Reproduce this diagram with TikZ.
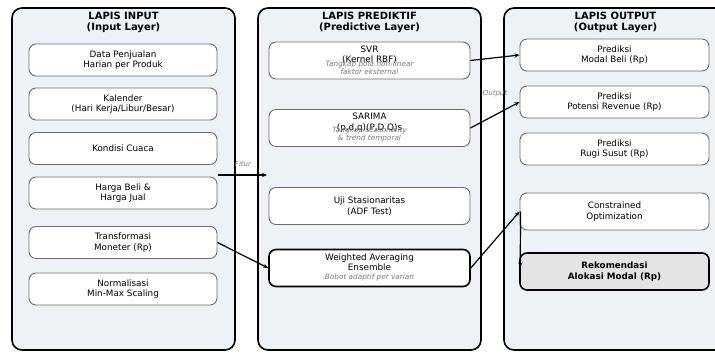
\documentclass[tikz,border=0pt]{standalone}
\usepackage{fontspec}
\setmainfont{DejaVu Sans}
\usetikzlibrary{arrows.meta}

\definecolor{panelfill}{HTML}{EEF2F7}
\definecolor{boxedge}{HTML}{6E6E6E}
\definecolor{subgrey}{HTML}{7A7A7A}
\definecolor{keyfill}{HTML}{E4E4E4}

\tikzset{
  panel/.style={draw=black, line width=1.6pt, fill=panelfill, rounded corners=10pt,
    inner sep=0pt},
  layertitle/.style={font=\fontsize{10}{11.5}\selectfont\bfseries, align=center, inner sep=0pt},
  item/.style={draw=boxedge, line width=0.9pt, fill=white, rounded corners=7pt,
    inner sep=0pt, align=center, font=\fontsize{8.8}{10.5}\selectfont},
  inbox/.style={item, minimum width=188pt, minimum height=32pt},
  midbox/.style={item, minimum width=201pt, minimum height=37pt},
  outbox/.style={item, minimum width=189pt, minimum height=32pt},
  strong/.style={draw=black, line width=1.6pt},
  maintext/.style={font=\fontsize{8.8}{10.3}\selectfont, align=center, inner sep=0pt},
  subtext/.style={font=\fontsize{7.3}{8.4}\selectfont\itshape, text=subgrey,
    align=center, inner sep=0pt},
  flowlabel/.style={font=\fontsize{7}{8}\selectfont\itshape, text=subgrey, inner sep=0pt},
  flow/.style={line width=1.2pt, -{Stealth[length=5pt,width=4pt]}},
}

\begin{document}
\begin{tikzpicture}[x=1pt, y=-1pt]
  \useasboundingbox (0,0) rectangle (715,353);
  \clip (0,0) rectangle (715,353);

  % layer panels
  \node[panel, minimum width=223pt, minimum height=342pt] (pin)  at (123.5,179) {};
  \node[panel, minimum width=223pt, minimum height=342pt] (ppre) at (369.5,179) {};
  \node[panel, minimum width=223pt, minimum height=342pt] (pout) at (615.5,179) {};

  % layer titles
  \node[layertitle] (tin)  at (123.5,22.5) {LAPIS INPUT\\(Input Layer)};
  \node[layertitle] (tpre) at (369.5,22.5) {LAPIS PREDIKTIF\\(Predictive Layer)};
  \node[layertitle] (tout) at (615.5,22.5) {LAPIS OUTPUT\\(Output Layer)};

  % input layer
  \node[inbox] (jual)  at (123,60)    {Data Penjualan\\Harian per Produk};
  \node[inbox] (kal)   at (123,104)   {Kalender\\(Hari Kerja/Libur/Besar)};
  \node[inbox] (cuaca) at (123,148.5) {Kondisi Cuaca};
  \node[inbox] (harga) at (123,193)   {Harga Beli \&\\Harga Jual};
  \node[inbox] (trans) at (123,242.5) {Transformasi\\Moneter (Rp)};
  \node[inbox] (norm)  at (123,289)   {Normalisasi\\Min-Max Scaling};

  % predictive layer
  \node[midbox] (svr)    at (369.5,60.5) {};
  \node[maintext] (svrT)   at (369.5,54.5) {SVR\\(Kernel RBF)};
  \node[subtext]  (svrS)   at (369.5,67.5) {Tangkap pola non-linear\\faktor eksternal};

  \node[midbox] (sarima) at (369.5,128) {};
  \node[maintext] (sarT)   at (369.5,122.5) {SARIMA\\(p,d,q)(P,D,Q)s};
  \node[subtext]  (sarS)   at (369.5,134.5) {Tangkap seasonality\\\& trend temporal};

  \node[midbox] (adf)    at (369.5,206) {Uji Stasionaritas\\(ADF Test)};

  \node[midbox, strong] (ens) at (369.5,268) {};
  \node[maintext] (ensT)   at (369.5,262.5) {Weighted Averaging\\Ensemble};
  \node[subtext]  (ensS)   at (369.5,277)   {Bobot adaptif per varian};

  % output layer
  \node[outbox] (modal) at (614.5,55)  {Prediksi\\Modal Beli (Rp)};
  \node[outbox] (rev)   at (614.5,102) {Prediksi\\Potensi Revenue (Rp)};
  \node[outbox] (susut) at (614.5,149) {Prediksi\\Rugi Susut (Rp)};
  \node[outbox, minimum height=37pt] (opt) at (614.5,211.5) {Constrained\\Optimization};
  \node[outbox, minimum height=37pt, strong, fill=keyfill,
        font=\fontsize{8.8}{10.5}\selectfont\bfseries] (rek) at (614.5,271.5)
        {Rekomendasi\\Alokasi Modal (Rp)};

  % connectors
  \coordinate (fitA) at (218,175);
  \coordinate (fitB) at (267,175);
  \draw[flow] (fitA) -- (fitB);
  \node[flowlabel] (fitL) at (243,164) {Fitur};

  \draw[flow] (trans.east) -- (ens.west);
  \draw[flow] (svr.east) -- (modal.west);
  \draw[flow] (sarima.east) -- (rev.west);
  \node[flowlabel] (outL) at (495,94) {Output};
  \draw[flow] (ens.east) -- (opt.west);
  \draw[flow] ([xshift=1pt]opt.west) -- ([xshift=1pt,yshift=4pt]rek.west);
\end{tikzpicture}
\end{document}
